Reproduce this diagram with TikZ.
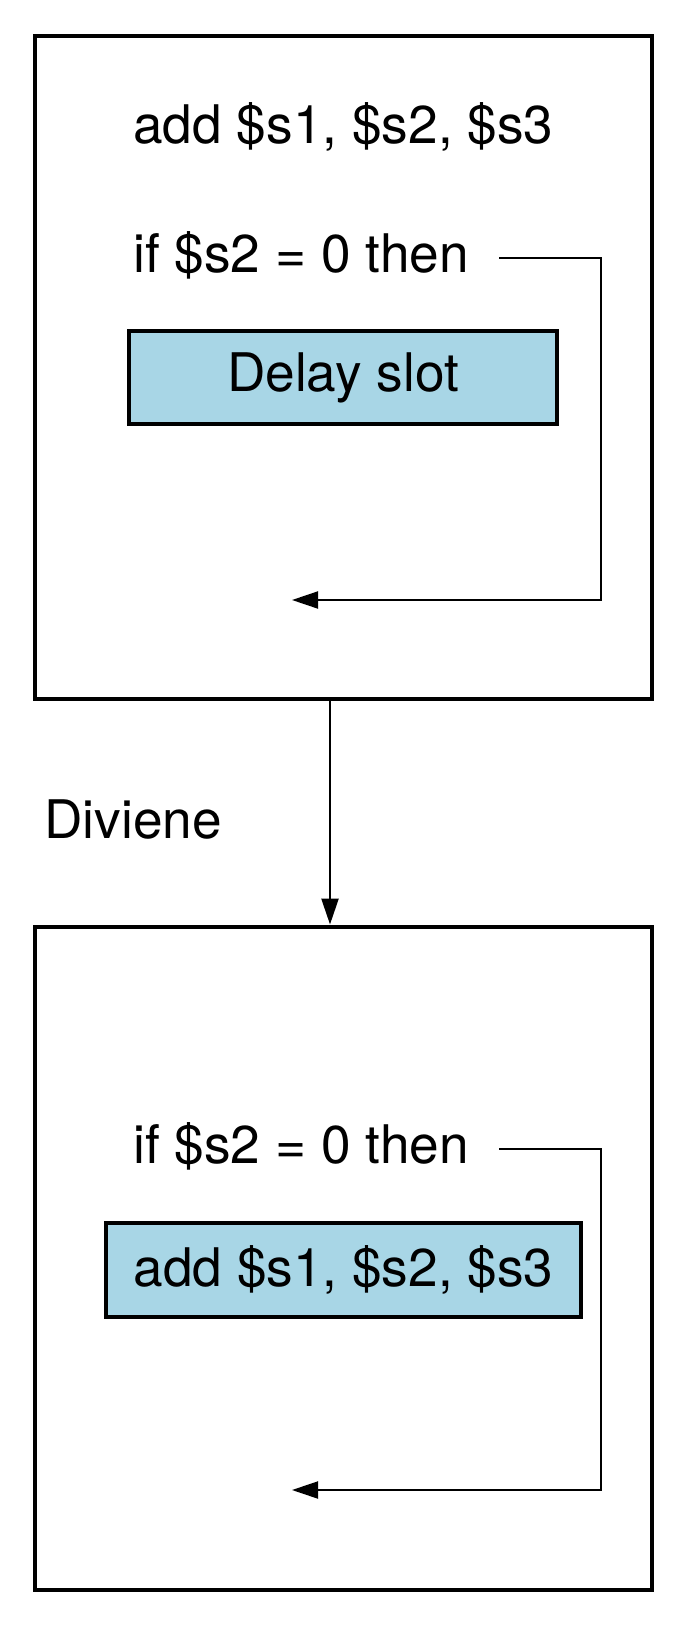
\documentclass[tikz,border=0pt]{standalone}
\usepackage{fontspec}
\setmainfont{TeX Gyre Heros}
\usetikzlibrary{
  arrows.meta,
  calc,
  positioning,
}
\definecolor{slotblue}{RGB}{168,214,230}
\tikzset{
  >={Triangle[length=13pt,width=8.5pt]},
  frame/.style={draw, line width=2pt, minimum width=308.5pt, minimum height=331.5pt},
  slot/.style={draw, line width=1.6pt, fill=slotblue, inner sep=0pt},
  code/.style={anchor=base west, inner sep=0pt},
  branch/.style={->, line width=1pt},
}

\begin{document}
\begin{tikzpicture}[x=0.5pt, y=-0.5pt, font=\fontsize{26.6}{32}\selectfont]
      \useasboundingbox (0,0) rectangle (680,1632);
      % before
      \node [frame] (before) at (343.5, 367.5) {};
      \node [code] (add1) at (133, 143) {add \$s1, \$s2, \$s3};
      \node [code] (cond1) at (133, 272) {if \$s2 = 0 then};
      \node [slot, minimum width=214pt, minimum height=46.5pt] (delay) at (343, 377.5) {Delay slot};
      \coordinate (jump1) at (601, 600);
      \coordinate (land1) at (292, 600);
      \draw [branch] ([shift={(15pt,7pt)}]cond1.base east) -| (jump1) -- (land1);
      % after
      \node [frame] (after) at (343.5, 1258) {};
      \node [code] (cond2) at (133, 1163) {if \$s2 = 0 then};
      \node [slot, minimum width=237.5pt, minimum height=47pt] (moved) at (343.5, 1270) {add \$s1, \$s2, \$s3};
      \coordinate (jump2) at (601, 1490);
      \coordinate (land2) at (292, 1490);
      \draw [branch] ([shift={(15pt,7pt)}]cond2.base east) -| (jump2) -- (land2);
      % transformation
      \draw [->, line width=1.2pt] ([xshift=-6.75pt]before.south) -- ([xshift=-6.75pt]after.north);
      \node [code] (becomes) at (44, 838) {Diviene};
    \end{tikzpicture}
\end{document}
